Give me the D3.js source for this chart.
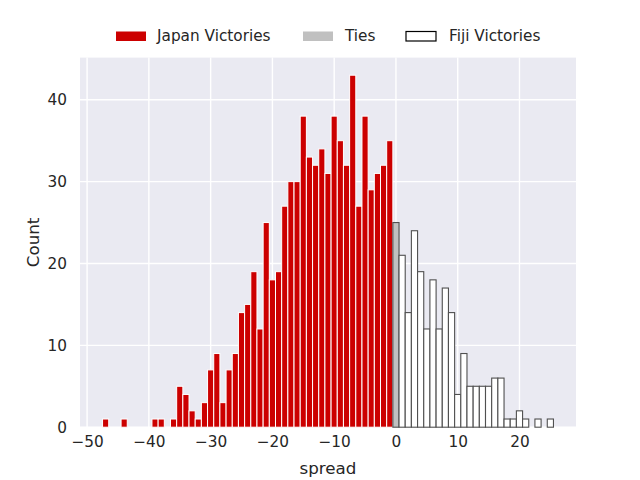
<!DOCTYPE html>
<html>
<head>
<meta charset="utf-8">
<script src="https://cdn.jsdelivr.net/npm/d3@7"></script>
<style>
html, body { margin: 0; padding: 0; background: #ffffff; }
svg { display: block; font-family: "DejaVu Sans", sans-serif; }
</style>
</head>
<body>
<svg id="chart" width="640" height="480"></svg>
<script>
// Data
const japanSpread = [-47,-44,-39,-38,-36,-35,-34,-33,-32,-31,-30,-29,-28,-27,-26,-25,-24,-23,-22,-21,-20,-19,-18,-17,-16,-15,-14,-13,-12,-11,-10,-9,-8,-7,-6,-5,-4,-3,-2,-1];
const japanCount  = [1,1,1,1,1,5,4,2,1,3,7,9,3,7,9,14,15,19,12,25,18,19,27,30,30,38,33,32,34,31,38,35,32,43,27,38,29,31,32,35];
const tieSpread = [0];
const tieCount  = [25];
const fijiSpread = [1,2,3,4,5,6,7,8,9,10,11,12,13,14,15,16,17,18,19,20,21,23,25];
const fijiCount  = [21,14,24,19,12,18,12,17,14,4,9,5,5,5,5,6,6,1,1,2,1,1,1];
const xTicks = [-50,-40,-30,-20,-10,0,10,20];
const yTicks = [0,10,20,30,40];
const legendLabels = ["Japan Victories","Ties","Fiji Victories"];

(function () {
const svg = d3.select("#chart");
const pLeft = 80, pRight = 576, pTop = 57.6, pBottom = 427.2;
const x = d3.scaleLinear().domain([-51.15, 29.15]).range([pLeft, pRight]);
const y = d3.scaleLinear().domain([0, 45.15]).range([pBottom, pTop]);

const textColor = "#262626";

// background
svg.append("rect").attr("x", pLeft).attr("y", pTop)
  .attr("width", pRight - pLeft).attr("height", pBottom - pTop).attr("fill", "#eaeaf2");

// grid
const grid = svg.append("g");
grid.selectAll("line.gx").data(xTicks).join("line").attr("class", "gx")
  .attr("x1", d => x(d)).attr("x2", d => x(d)).attr("y1", pTop).attr("y2", pBottom)
  .attr("stroke", "#ffffff").attr("stroke-width", 1.4);
grid.selectAll("line.gy").data(yTicks).join("line").attr("class", "gy")
  .attr("y1", d => y(d)).attr("y2", d => y(d)).attr("x1", pLeft).attr("x2", pRight)
  .attr("stroke", "#ffffff").attr("stroke-width", 1.4);

function drawBars(spreads, counts, fill, stroke, sw) {
  const data = spreads.map((s, i) => ({s, c: counts[i]}));
  svg.append("g").selectAll("rect").data(data).join("rect")
    .attr("x", d => x(d.s - 0.5))
    .attr("width", d => x(d.s + 0.5) - x(d.s - 0.5))
    .attr("y", d => y(d.c))
    .attr("height", d => y(0) - y(d.c))
    .attr("fill", fill).attr("stroke", stroke).attr("stroke-width", sw);
}
drawBars(japanSpread, japanCount, "#cc0000", "#ffffff", 1);
drawBars(tieSpread, tieCount, "#c0c0c0", "#505050", 1.1);
drawBars(fijiSpread, fijiCount, "#ffffff", "#505050", 1.1);

// axes tick labels
const xAxis = d3.axisBottom(x).tickValues(xTicks).tickSize(0).tickPadding(9)
  .tickFormat(d => d < 0 ? "\u2212" + Math.abs(d) : String(d));
const gx = svg.append("g").attr("transform", `translate(0,${pBottom})`).call(xAxis);
gx.select(".domain").remove();
gx.selectAll("text").attr("font-size", "15.3px").attr("fill", textColor)
  .attr("font-family", "DejaVu Sans, sans-serif");

const yAxis = d3.axisLeft(y).tickValues(yTicks).tickSize(0).tickPadding(13);
const gy = svg.append("g").attr("transform", `translate(${pLeft},0)`).call(yAxis);
gy.select(".domain").remove();
gy.selectAll("text").attr("font-size", "15.3px").attr("fill", textColor)
  .attr("font-family", "DejaVu Sans, sans-serif");

// axis labels
svg.append("text").attr("x", (pLeft + pRight) / 2).attr("y", 474)
  .attr("text-anchor", "middle").attr("font-size", "16.7px").attr("fill", textColor)
  .text("spread");
svg.append("text").attr("transform", `translate(39,${(pTop + pBottom) / 2}) rotate(-90)`)
  .attr("text-anchor", "middle").attr("font-size", "16.7px").attr("fill", textColor)
  .text("Count");

// legend
const legendItems = [
  {label: legendLabels[0], px: 116, tx: 157, fill: "#cc0000", stroke: "none"},
  {label: legendLabels[1], px: 303, tx: 345, fill: "#c0c0c0", stroke: "none"},
  {label: legendLabels[2], px: 406, tx: 449, fill: "#ffffff", stroke: "#000000"}
];
const lg = svg.append("g");
legendItems.forEach(it => {
  lg.append("rect").attr("x", it.px).attr("y", 31.5).attr("width", 30).attr("height", 9.5)
    .attr("fill", it.fill).attr("stroke", it.stroke).attr("stroke-width", 1.2);
  lg.append("text").attr("x", it.tx).attr("y", 41).attr("font-size", "15.3px")
    .attr("fill", textColor).text(it.label);
});
})();
</script>
</body>
</html>
